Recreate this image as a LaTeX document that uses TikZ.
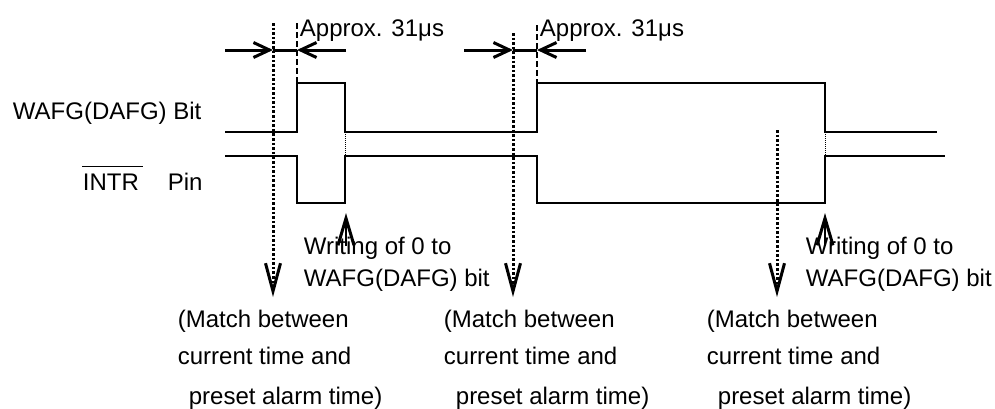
\documentclass[tikz,border=0pt]{standalone}
\usepackage{fontspec}
\setmainfont{Liberation Sans}
\usetikzlibrary{arrows.meta}
\begin{document}
\begin{tikzpicture}[x=1pt,y=-1pt,line width=1.8pt,font=\fontsize{24}{28}\selectfont,
		>={Straight Barb[length=16pt,width=15pt,line width'=3pt]},
		lbl/.style={anchor=base west,inner sep=0pt},
		span/.style={line width=3pt},
		match/.style={line width=3pt,dash pattern=on 2.6pt off 2pt,-{Straight Barb[length=28pt,width=15pt,line width'=3pt]}},
		clear/.style={-{Straight Barb[length=27pt,width=16pt,line width'=3pt]}},
		gap/.style={line width=0.8pt,dash pattern=on 1pt off 1pt},
		edge/.style={dash pattern=on 6pt off 3pt}]
			\useasboundingbox (0,0) rectangle (995,408);
			\node[lbl] (wafg) at (12,119) {WAFG(DAFG) Bit};
			\node[lbl] (intr) at (82,190) {INTR};
			\node[lbl] (pin) at (167,190) {Pin};
			\draw ([yshift=6pt]intr.north west)--([yshift=6pt,xshift=3pt]intr.north east);
			\draw (225,132)--(297,132)--(297,83)--(345,83)--(345,132)--(537,132)--(537,83)--(825,83)--(825,132)--(937,132);
			\draw (225,156)--(297,156)--(297,203)--(345,203)--(345,156)--(537,156)--(537,203)--(825,203)--(825,156)--(945,156);
			\draw[gap] (345,132)--(345,156) (825,132)--(825,156);
			\coordinate (m1) at (273,23); \coordinate (m1b) at (273,297);
			\coordinate (m2) at (513,33); \coordinate (m2b) at (513,297);
			\coordinate (m3) at (777,130); \coordinate (m3b) at (777,297);
			\coordinate (r1) at (297,23); \coordinate (r1b) at (297,83);
			\coordinate (r2) at (537,25); \coordinate (r2b) at (537,83);
			\draw[match] (m1)--(m1b);
			\draw[match] (m2)--(m2b);
			\draw[match] (m3)--(m3b);
			\draw[edge] (r1)--(r1b) (r2)--(r2b);
			\coordinate (a1) at (225,50); \coordinate (a1m) at (273,50); \coordinate (a1r) at (297,50); \coordinate (a1e) at (346,50);
			\coordinate (a2) at (464,50); \coordinate (a2m) at (513,50); \coordinate (a2r) at (537,50); \coordinate (a2e) at (586,50);
			\draw[span,->] (a1)--(a1m);
			\draw[span] (a1m)--(a1r);
			\draw[span,->] (a1e)--(a1r);
			\draw[span,->] (a2)--(a2m);
			\draw[span] (a2m)--(a2r);
			\draw[span,->] (a2e)--(a2r);
			\node[lbl] (approx1) at (299,36) {Approx. 31μs};
			\node[lbl] (approx2) at (539,36) {Approx. 31μs};
			\coordinate (w1) at (346,246); \coordinate (w1t) at (346,213);
			\coordinate (w2) at (825,246); \coordinate (w2t) at (825,213);
			\draw[clear] (w1)--(w1t);
			\draw[clear] (w2)--(w2t);
			\node[lbl] (write1a) at (303,254) {Writing of 0 to};
			\node[lbl] (write1b) at (303,286) {WAFG(DAFG) bit};
			\node[lbl] (write2a) at (805,254) {Writing of 0 to};
			\node[lbl] (write2b) at (805,286) {WAFG(DAFG) bit};
			\node[lbl] (match1a) at (177,327) {(Match between};
			\node[lbl] (match1b) at (177,364) {current time and};
			\node[lbl] (match1c) at (188,404) {preset alarm time)};
			\node[lbl] (match2a) at (443,327) {(Match between};
			\node[lbl] (match2b) at (443,364) {current time and};
			\node[lbl] (match2c) at (455,404) {preset alarm time)};
			\node[lbl] (match3a) at (706,327) {(Match between};
			\node[lbl] (match3b) at (706,364) {current time and};
			\node[lbl] (match3c) at (717,404) {preset alarm time)};
		\end{tikzpicture}
\end{document}
